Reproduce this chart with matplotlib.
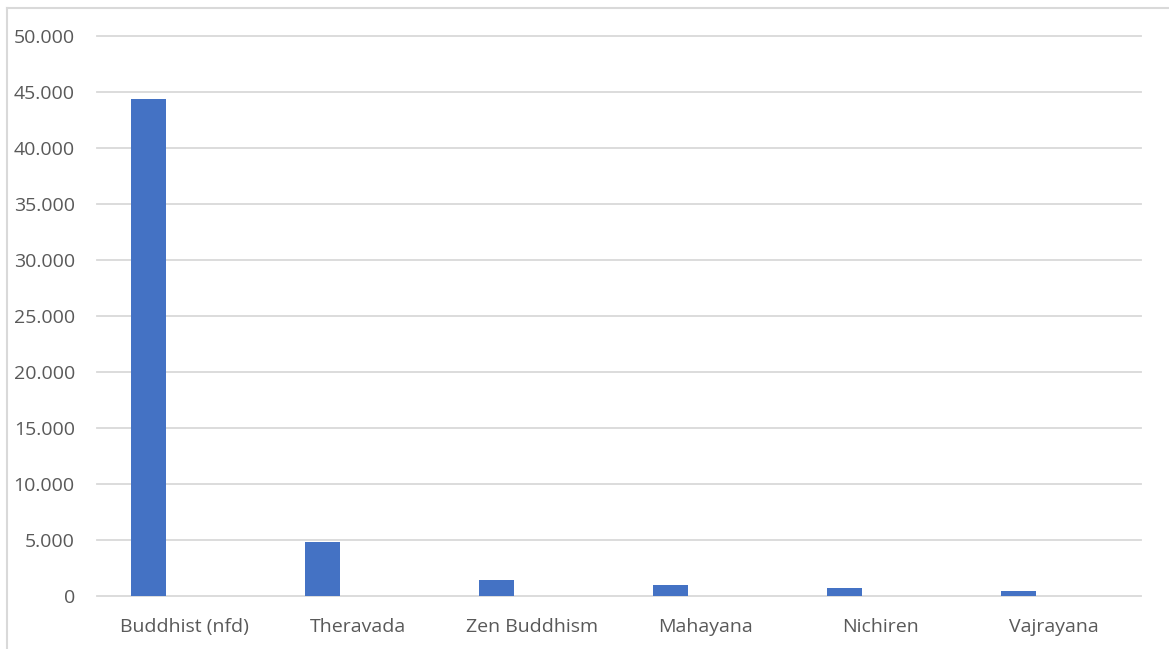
import numpy as np
import matplotlib.pyplot as plt
from matplotlib.ticker import FuncFormatter, MultipleLocator
from matplotlib.lines import Line2D

categories = ['Buddhist (nfd)', 'Theravada', 'Zen Buddhism', 'Mahayana', 'Nichiren', 'Vajrayana']
values = [44400, 4820, 1430, 1010, 740, 450]

plt.rcParams['font.family'] = ['Open Sans', 'DejaVu Sans']

W, H = 1169, 649
fig = plt.figure(figsize=(W / 100, H / 100), dpi=100)
ax = fig.add_axes([97 / W, 1 - 596 / H, (1141 - 97) / W, (596 - 36) / H])

x = np.arange(len(categories))
ax.bar(x - 0.205, values, width=0.2, color='#4472c4', zorder=3)

ax.set_xlim(-0.5, len(categories) - 0.5)
ax.set_ylim(0, 50000)
ax.yaxis.set_major_locator(MultipleLocator(5000))
ax.yaxis.set_major_formatter(FuncFormatter(lambda v, p: f'{int(v):,}'.replace(',', '.')))
ax.set_xticks(x)
ax.set_xticklabels(categories)

ax.grid(axis='y', color='#d9d9d9', linewidth=1.3, zorder=0)
for gl in ax.get_ygridlines():
    gl.set_clip_on(False)
ax.set_axisbelow(True)
for s in ax.spines.values():
    s.set_visible(False)
ax.tick_params(axis='both', length=0, labelsize=14, labelcolor='#595959')
ax.tick_params(axis='x', pad=16)
ax.tick_params(axis='y', pad=16)

# outer chart frame (top and left edges visible)
fig.add_artist(Line2D([7 / W, 7 / W], [0, 1 - 8 / H], transform=fig.transFigure, color='#d9d9d9', linewidth=1.5))
fig.add_artist(Line2D([7 / W, 1], [1 - 8 / H, 1 - 8 / H], transform=fig.transFigure, color='#d9d9d9', linewidth=1.5))

fig.savefig('out.png', dpi=100, facecolor='white')
